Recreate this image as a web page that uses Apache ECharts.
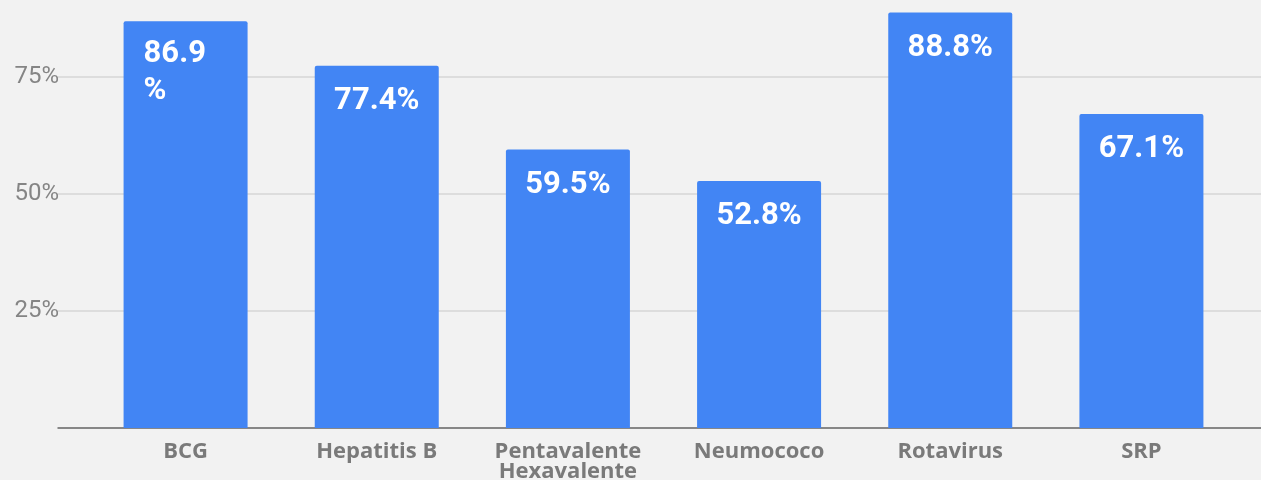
<!DOCTYPE html>
<html>
<head>
<meta charset="utf-8">
<script src="https://cdn.jsdelivr.net/npm/echarts@6/dist/echarts.min.js"></script>
<style>
  html, body { margin: 0; padding: 0; background: #f2f2f2; }
  #chart { width: 1261px; height: 480px; }
</style>
</head>
<body>
<div id="chart"></div>
<script>
const categories = ["BCG", "Hepatitis B", "Pentavalente\nHexavalente", "Neumococo", "Rotavirus", "SRP"];
const coverage = [86.9, 77.4, 59.5, 52.8, 88.8, 67.1];
const barLabels = ["86.9\n%", "77.4%", "59.5%", "52.8%", "88.8%", "67.1%"];

const chart = echarts.init(document.getElementById("chart"));

// first grid only holds the gridlines, y labels and the full-width axis line
chart.setOption({
  backgroundColor: "#f2f2f2",
  animation: false,
  grid: [
    { left: 58, right: 0, top: -40, bottom: 52, outerBoundsMode: "none" },
    { left: 90, right: 24, top: -40, bottom: 52, outerBoundsMode: "none" }
  ],
  xAxis: [
    {
      type: "value",
      gridIndex: 0,
      min: 0,
      max: 1,
      axisLine: { show: true, lineStyle: { color: "#6b6b6b", width: 1.5 } },
      axisTick: { show: false },
      axisLabel: { show: false },
      splitLine: { show: false }
    },
    {
      type: "category",
      gridIndex: 1,
      data: categories,
      axisLine: { show: false },
      axisTick: { show: false },
      axisLabel: {
        color: "#7a7a7a",
        fontFamily: "Open Sans",
        fontWeight: "bold",
        fontSize: 22,
        lineHeight: 20,
        margin: 14,
        interval: 0
      }
    }
  ],
  yAxis: [
    {
      type: "value",
      gridIndex: 0,
      min: 0,
      max: 100,
      interval: 25,
      axisLine: { show: false },
      axisTick: { show: false },
      splitLine: { lineStyle: { color: "#d6d6d6", width: 1.5 } },
      axisLabel: {
        showMinLabel: false,
        formatter: "{value}%",
        color: "#858585",
        fontFamily: "Roboto",
        fontSize: 24,
        margin: -1,
        verticalAlign: "middle",
        padding: [9, 0, 0, 0]
      }
    },
    {
      type: "value",
      gridIndex: 1,
      min: 0,
      max: 100,
      show: false
    }
  ],
  series: [
    {
      type: "bar",
      xAxisIndex: 1,
      yAxisIndex: 1,
      barWidth: 124,
      itemStyle: {
        color: "#4285f4",
        borderRadius: [2, 2, 0, 0]
      },
      label: {
        show: true,
        position: "insideTop",
        distance: 17,
        color: "#ffffff",
        fontFamily: "Roboto",
        fontWeight: "bold",
        fontSize: 31,
        lineHeight: 37,
        formatter: (p) => barLabels[p.dataIndex]
      },
      data: coverage.map((v, i) =>
        i === 0
          ? { value: v, label: { position: [20, 14], align: "left" } }
          : v
      )
    }
  ]
});
</script>
</body>
</html>
